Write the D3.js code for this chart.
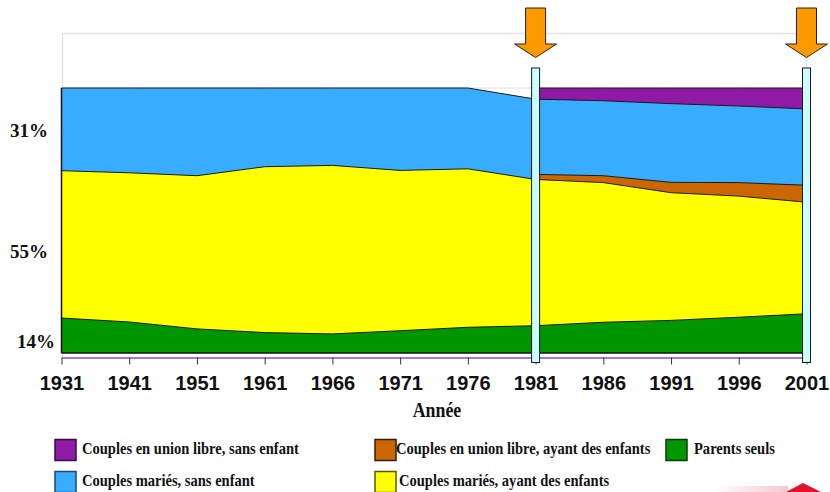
<!DOCTYPE html>
<html>
<head>
<meta charset="utf-8">
<script src="https://cdn.jsdelivr.net/npm/d3@7"></script>
<style>
  html, body { margin: 0; padding: 0; background: #ffffff; }
  svg { display: block; }
</style>
</head>
<body>
<svg id="chart" width="830" height="492"></svg>
<script>
// ---------------- DATA ----------------
const years = [1931, 1941, 1951, 1961, 1966, 1971, 1976, 1981, 1986, 1991, 1996, 2001];
const parentsSeuls          = [13.2, 11.7, 9.1, 7.7, 7.2, 8.4, 9.7, 10.3, 11.6, 12.3, 13.5, 14.8];
const mariesAvecEnfants     = [55.6, 56.3, 57.8, 62.6, 63.6, 60.5, 59.8, 55.2, 52.7, 48.2, 45.7, 42.1];
const unionLibreAvecEnfants = [null, null, null, null, null, null, null, 1.9, 2.6, 3.9, 5.1, 6.4];
const mariesSansEnfant      = [31.2, 32.0, 33.1, 29.7, 29.2, 31.1, 30.5, 28.4, 28.3, 29.7, 28.9, 28.8];
const unionLibreSansEnfant  = [null, null, null, null, null, null, null, 4.2, 4.8, 5.9, 6.8, 7.9];

const seriesNames = [
  "Parents seuls",
  "Couples mariés, ayant des enfants",
  "Couples en union libre, ayant des enfants",
  "Couples mariés, sans enfant",
  "Couples en union libre, sans enfant"
];
const seriesValues = [parentsSeuls, mariesAvecEnfants, unionLibreAvecEnfants, mariesSansEnfant, unionLibreSansEnfant];
const seriesColors = ["#009600", "#FFFF00", "#CC6600", "#38ADFF", "#8E1AA6"];
const seriesBorders = ["#0a3a0a", "#5a5a00", "#3a1a00", "#1a4a70", "#3a0a44"];

const yLabels = ["31%", "55%", "14%"];
const highlightYears = [1981, 2001];
const xTitle = "Année";

// legend order (as in the picture: row-major, 3 columns)
const legendOrder = [
  "Couples en union libre, sans enfant",
  "Couples en union libre, ayant des enfants",
  "Parents seuls",
  "Couples mariés, sans enfant",
  "Couples mariés, ayant des enfants"
];

// ---------------- LAYOUT ----------------
const svg = d3.select("#chart");
const x = d3.scalePoint().domain(years).range([61.5, 806.5]);
const y = d3.scaleLinear().domain([0, 100]).range([353, 88]);
const axisY = 357.5;

// table for stacking
const table = years.map((yr, i) => {
  const row = { year: yr };
  seriesNames.forEach((n, k) => { row[n] = seriesValues[k][i]; });
  return row;
});
const stack = d3.stack().keys(seriesNames).value((d, k) => d[k] == null ? 0 : d[k]);
const layers = stack(table);

// frame (light)
svg.append("rect")
  .attr("x", 62.5).attr("y", 33.5)
  .attr("width", 806.5 - 62.5).attr("height", axisY - 33.5)
  .attr("fill", "none").attr("stroke", "#e4e2ec").attr("stroke-width", 1.5);

// faint 100% line
svg.append("line")
  .attr("x1", x(years[0])).attr("x2", x(years[years.length - 1]))
  .attr("y1", y(100)).attr("y2", y(100))
  .attr("stroke", "#dcdcdc").attr("stroke-width", 1);

// areas: each from baseline up to its cumulative top, drawn top series first
const g = svg.append("g");
const drawOrder = layers.slice().reverse();
drawOrder.forEach(layer => {
  const k = seriesNames.indexOf(layer.key);
  const vals = seriesValues[k];
  const area = d3.area()
    .defined((d, i) => vals[i] != null)
    .x(d => x(d.data.year))
    .y0(y(0))
    .y1(d => y(d[1]));
  g.append("path").datum(layer)
    .attr("d", area)
    .attr("fill", seriesColors[k])
    .attr("stroke", "none");
});
// top boundary lines
drawOrder.forEach(layer => {
  const k = seriesNames.indexOf(layer.key);
  const vals = seriesValues[k];
  const line = d3.line()
    .defined((d, i) => vals[i] != null)
    .x(d => x(d.data.year))
    .y(d => y(d[1]));
  g.append("path").datum(layer)
    .attr("d", line)
    .attr("fill", "none")
    .attr("stroke", "#1a1a1a")
    .attr("stroke-width", 1);
});
// left edge and baseline of the stack
g.append("line")
  .attr("x1", x(years[0])).attr("x2", x(years[0]))
  .attr("y1", y(100)).attr("y2", y(0))
  .attr("stroke", "#111").attr("stroke-width", 1.5);
g.append("line")
  .attr("x1", x(years[0])).attr("x2", x(years[years.length - 1]))
  .attr("y1", y(0)).attr("y2", y(0))
  .attr("stroke", "#111").attr("stroke-width", 1.5);

// x axis
const xAxis = d3.axisBottom(x).tickSize(7).tickSizeOuter(0).tickPadding(11);
const ax = svg.append("g").attr("transform", `translate(0,${axisY})`).call(xAxis);
ax.select(".domain").attr("stroke", "#9a7fd4").attr("stroke-width", 2.2);
ax.selectAll(".tick line").attr("stroke", "#333").attr("stroke-width", 1);
ax.selectAll(".tick text")
  .attr("fill", "#111")
  .style("font-family", "'Liberation Sans', Arial, sans-serif")
  .style("font-weight", "bold")
  .style("font-size", "20px");

// x title
svg.append("text")
  .attr("transform", "translate(437,417) scale(0.85,1)")
  .attr("text-anchor", "middle")
  .style("font-family", "'Liberation Serif', 'Times New Roman', serif")
  .style("font-weight", "bold").style("font-size", "21px")
  .attr("fill", "#111")
  .text(xTitle);

// y labels (share labels placed beside the 1931 bands)
const yLabelPos = [[48, 81.5], [48, 35.8], [55, 1.8]];
yLabels.forEach((t, i) => {
  svg.append("text")
    .attr("x", yLabelPos[i][0]).attr("y", y(yLabelPos[i][1]))
    .attr("text-anchor", "end")
    .style("font-family", "'Liberation Serif', 'Times New Roman', serif")
    .style("font-weight", "bold").style("font-size", "19px")
    .attr("fill", "#111")
    .text(t);
});

// highlight bars
highlightYears.forEach(yr => {
  svg.append("rect")
    .attr("x", x(yr) - 4).attr("y", 68)
    .attr("width", 8).attr("height", 362.5 - 68)
    .attr("fill", "#CCFFFF").attr("stroke", "#1a1a1a").attr("stroke-width", 1);
});

// arrows
highlightYears.forEach(yr => {
  const cx = x(yr);
  const pts = [
    [cx - 10, 8], [cx + 10, 8], [cx + 10, 44], [cx + 21, 44],
    [cx, 57.5], [cx - 21, 44], [cx - 10, 44]
  ];
  svg.append("polygon")
    .attr("points", pts.map(p => p.join(",")).join(" "))
    .attr("fill", "#FF9900").attr("stroke", "#222").attr("stroke-width", 1);
});

// legend
const legCols = [[55, 82], [375, 396], [666, 694]];
const legRows = [439.5, 471.5];
legendOrder.forEach((name, i) => {
  const k = seriesNames.indexOf(name);
  const col = legCols[i % 3], row = legRows[Math.floor(i / 3)];
  const textX = (i === 4) ? col[1] + 3 : col[1];
  svg.append("rect")
    .attr("x", col[0]).attr("y", row)
    .attr("width", 21).attr("height", 21)
    .attr("fill", seriesColors[k])
    .attr("stroke", seriesBorders[k]).attr("stroke-width", 1.5);
  svg.append("text")
    .attr("transform", `translate(${textX},${row + 14}) scale(0.83,1)`)
    .style("font-family", "'Liberation Serif', 'Times New Roman', serif")
    .style("font-weight", "bold").style("font-size", "17.5px")
    .attr("fill", "#111")
    .text(name);
});

// partial red mark at bottom-right corner
const grad = svg.append("defs").append("linearGradient").attr("id", "fade")
  .attr("x1", "0").attr("x2", "1");
grad.append("stop").attr("offset", "0").attr("stop-color", "#ffffff");
grad.append("stop").attr("offset", "1").attr("stop-color", "#f7c8cf");
svg.append("rect").attr("x", 712).attr("y", 486).attr("width", 76).attr("height", 6).attr("fill", "url(#fade)");
svg.append("polygon")
  .attr("points", "786,492 803,483 821,492")
  .attr("fill", "#e4112b");
</script>
</body>
</html>
